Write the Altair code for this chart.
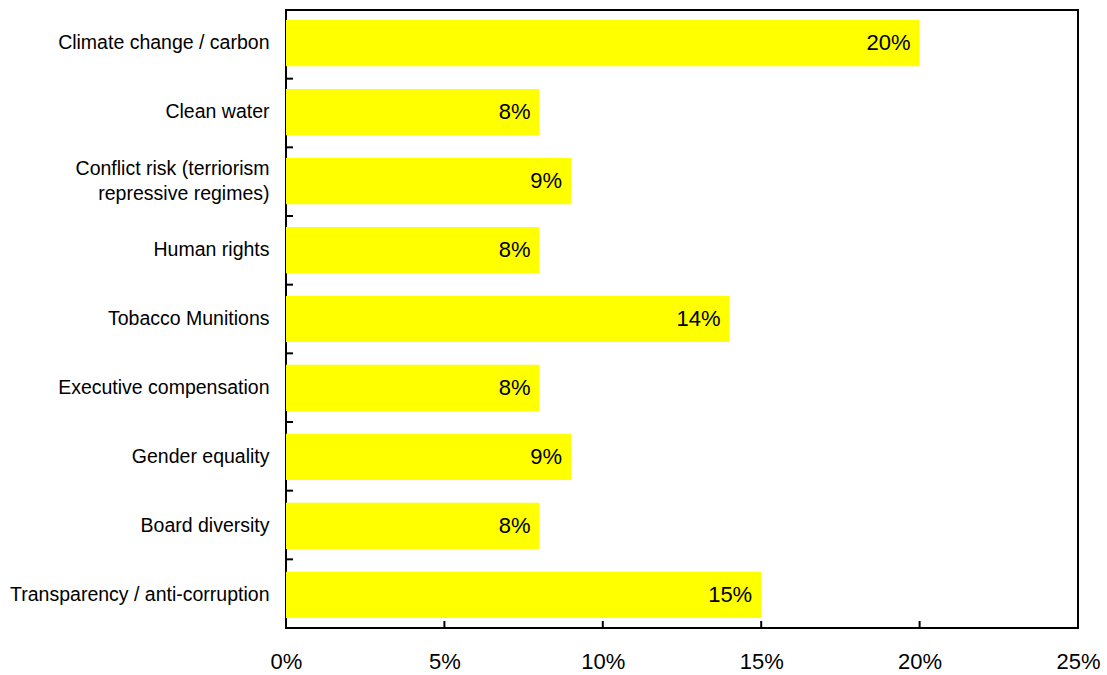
import altair as alt
import pandas as pd

categories = [
    "Climate change / carbon",
    "Clean water",
    "Conflict risk (terriorism repressive regimes)",
    "Human rights",
    "Tobacco Munitions",
    "Executive compensation",
    "Gender equality",
    "Board diversity",
    "Transparency / anti-corruption",
]
values = [20, 8, 9, 8, 14, 8, 9, 8, 15]
x_ticks = [0, 5, 10, 15, 20, 25]
inner_x_ticks = [5, 10, 15, 20]
boundary_cats = categories[:-1]

FONT = "Liberation Sans"

df = pd.DataFrame({"cat": categories, "val": values})
df["lbl"] = [f"{v}%" for v in values]
df_xt = pd.DataFrame({"t": inner_x_ticks})
df_yt = pd.DataFrame({"cat": boundary_cats})

yscale = alt.Scale(domain=categories, paddingInner=0.33, paddingOuter=0.145)
xscale = alt.Scale(domain=[0, 25], nice=False, zero=True)

two_line = "Conflict risk (terriorism repressive regimes)"
label_expr = (
    f"datum.value == '{two_line}' ? "
    "['Conflict risk (terriorism', 'repressive regimes)\u00a0\u00a0'] : datum.label"
)

bars = alt.Chart(df).mark_bar(color="#FFFF00").encode(
    y=alt.Y(
        "cat:N",
        sort=categories,
        scale=yscale,
        title=None,
        axis=alt.Axis(
            ticks=False,
            tickSize=0,
            domain=False,
            labelPadding=17,
            labelFontSize=19.5,
            labelFont=FONT,
            labelColor="black",
            labelLimit=400,
            labelExpr=label_expr,
            labelLineHeight=25,
            labelOffset={
                "condition": {"test": f"datum.value == '{two_line}'", "value": -12},
                "value": 0,
            },
        ),
    ),
    x=alt.X(
        "val:Q",
        scale=xscale,
        title=None,
        axis=alt.Axis(
            values=x_ticks,
            ticks=False,
            tickSize=0,
            domain=False,
            grid=False,
            labelPadding=23,
            labelFontSize=22,
            labelFont=FONT,
            labelColor="black",
            labelExpr="datum.value + '%'",
            labelFlush=False,
        ),
    ),
)

texts = alt.Chart(df).mark_text(
    align="right", baseline="middle", dx=-9, fontSize=22, font=FONT, color="black"
).encode(
    y=alt.Y("cat:N", sort=categories, scale=yscale),
    x=alt.X("val:Q", scale=xscale),
    text="lbl:N",
)

xt = alt.Chart(df_xt).mark_rule(color="black", strokeWidth=2).encode(
    x=alt.X("t:Q", scale=xscale),
    y=alt.value(618),
    y2=alt.value(611),
)

main = alt.layer(bars, texts, xt)

yt = alt.Chart(df_yt).mark_rule(color="black", strokeWidth=2).encode(
    y=alt.Y(
        "cat:N",
        sort=categories,
        scale=alt.Scale(domain=categories, paddingInner=0, paddingOuter=0),
        bandPosition=1,
        axis=None,
    ),
    x=alt.value(0),
    x2=alt.value(7),
)

chart = (
    alt.layer(main, yt)
    .resolve_scale(y="independent")
    .properties(
        width=792,
        height=618,
        autosize=alt.AutoSizeParams(type="none"),
        padding={"left": 286, "top": 10, "right": 29, "bottom": 47},
        background="white",
    )
    .configure_view(stroke="black", strokeWidth=2)
)

chart.save("out.html", embed_options={"renderer": "svg", "actions": False})
